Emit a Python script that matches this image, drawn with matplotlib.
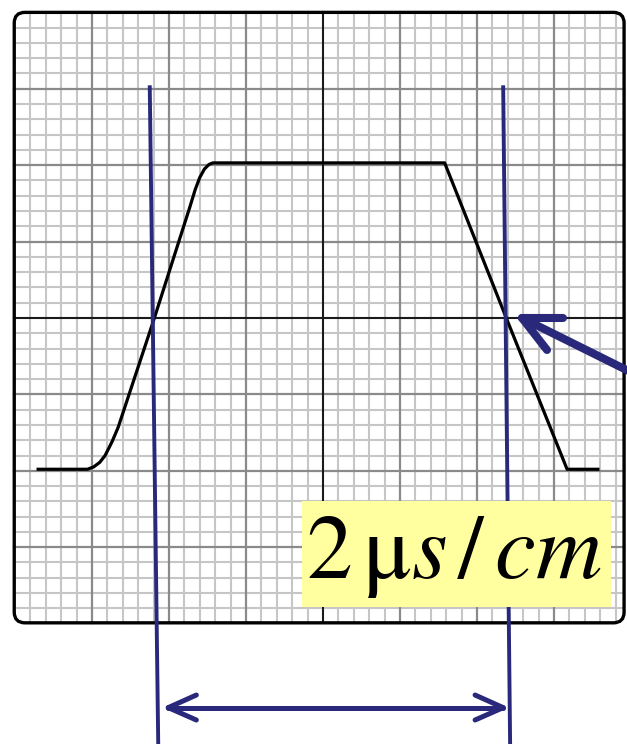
import matplotlib
matplotlib.use("Agg")
import numpy as np
import matplotlib.pyplot as plt
from matplotlib.patches import FancyBboxPatch, Rectangle

plt.rcParams["mathtext.fontset"] = "stix"

NAVY = "#29287a"
YELLOW = "#ffffa0"

# scope screen, in divisions (centre = 0,0)
SCREEN_X = (-4.01, 3.91)
SCREEN_Y = (-3.99, 4.00)
MINOR_STEP = 0.2

# trace (divisions)
wave_x = [-3.70, -3.06, -2.98, -2.90, -2.83, -2.74, -2.66, -2.19, -1.73, -1.66, -1.60,
          -1.54, -1.48, -1.43, 1.58, 2.38, 3.17, 3.57]
wave_y = [-1.98, -1.98, -1.95, -1.89, -1.80, -1.62, -1.43, 0.0, 1.45, 1.68, 1.84,
          1.95, 2.01, 2.03, 2.03, 0.0, -1.98, -1.98]

# the two cursors (top point, bottom point)
cursor_left = ([-2.25, -2.14], [3.02, -5.58])
cursor_right = ([2.34, 2.43], [3.02, -5.58])

# measurement arrow between the cursors
span_x = [-2.01, 2.34]
span_y = -5.10

# pointer to the 50 % crossing on the falling edge
pointer_tip = (2.584, 0.0)
pointer_tail = (4.2, -0.81)

LABEL = r"$2\,\mathrm{\mu}s\,/\,cm$"

fig = plt.figure(figsize=(6.27, 7.44), dpi=100)
ax = fig.add_axes([0, 0, 1, 1])
ax.set_xlim(-4.195, 3.948)
ax.set_ylim(-5.576, 4.162)
ax.axis("off")


def grid_style(v):
    if abs(v) < 1e-6:
        return "#1a1a1a", 1.5, 3
    if abs(v - round(v)) < 1e-6:
        return "#8a8a8a", 1.6, 2
    return "#c6c6c6", 1.5, 1


# ---- graticule ----
xs = np.round(np.arange(-3.8, SCREEN_X[1], MINOR_STEP), 2)
ys = np.round(np.arange(-3.8, SCREEN_Y[1] - 0.1, MINOR_STEP), 2)
for x in xs:
    c, lw, z = grid_style(x)
    ax.plot([x, x], SCREEN_Y, color=c, lw=lw, zorder=z)
for y in ys:
    c, lw, z = grid_style(y)
    ax.plot(SCREEN_X, [y, y], color=c, lw=lw, zorder=z)

ax.add_patch(FancyBboxPatch((SCREEN_X[0], SCREEN_Y[0]), SCREEN_X[1] - SCREEN_X[0],
                            SCREEN_Y[1] - SCREEN_Y[0],
                            boxstyle="round,pad=0,rounding_size=0.14",
                            facecolor="none", edgecolor="black", lw=2.4, zorder=4))

# ---- trace ----
ax.plot(wave_x, wave_y, color="black", lw=2.3, solid_joinstyle="round", zorder=5)

# ---- cursors ----
for cx, cy in (cursor_left, cursor_right):
    ax.plot(cx, cy, color=NAVY, lw=2.8, zorder=6)

# ---- label box (sits over the right cursor) ----
ax.add_patch(Rectangle((-0.27, -3.78), 4.01, 1.38, facecolor=YELLOW,
                       edgecolor="none", zorder=7))
ax.text(1.70, -3.40, LABEL, fontsize=66, ha="center", va="baseline", zorder=8)

# ---- span arrow ----
ax.plot(span_x, [span_y, span_y], color=NAVY, lw=3.6, solid_capstyle="round", zorder=6)
for tip, sgn in ((span_x[0], 1), (span_x[1], -1)):
    for dy in (0.165, -0.162):
        ax.plot([tip + sgn * 0.365, tip], [span_y + dy, span_y], color=NAVY, lw=3.6,
                solid_capstyle="round", zorder=6)

# ---- pointer arrow ----
tx, ty = pointer_tip
ax.plot([tx, pointer_tail[0]], [ty, pointer_tail[1]], color=NAVY, lw=5.8,
        solid_capstyle="round", zorder=9)
ax.plot([3.117, tx, 2.909], [0.0, ty, -0.419], color=NAVY, lw=5.8,
        solid_capstyle="round", solid_joinstyle="round", zorder=9)

fig.savefig("out.png", dpi=100)
